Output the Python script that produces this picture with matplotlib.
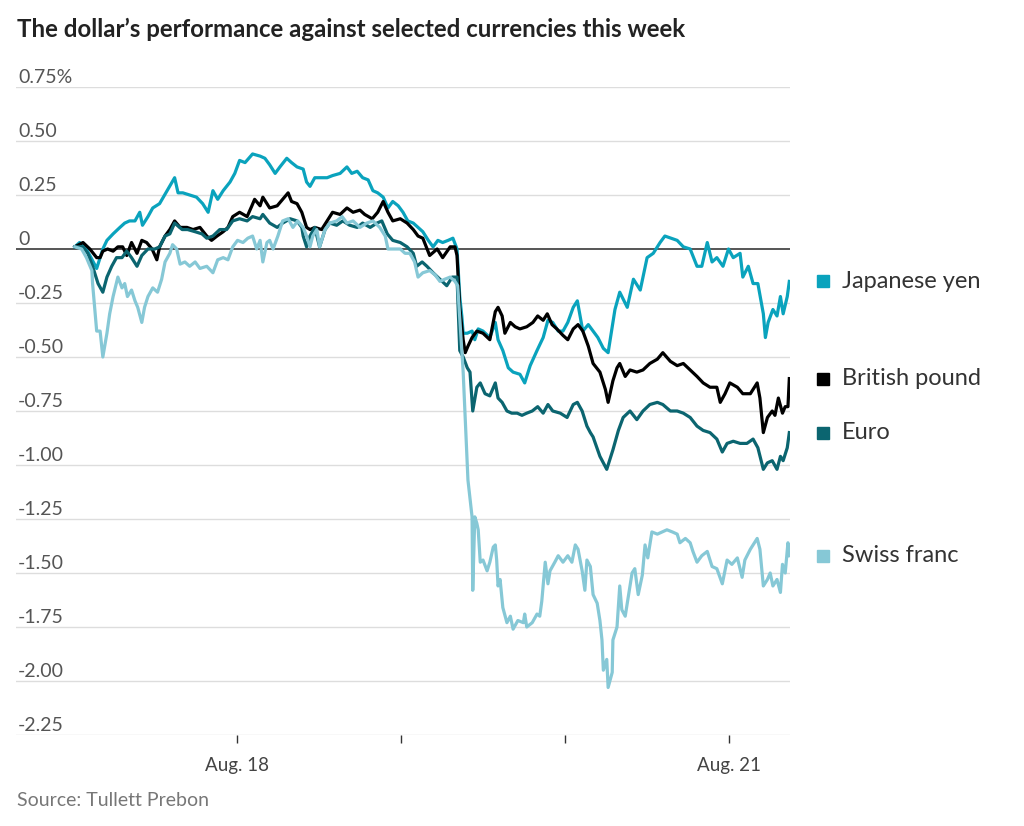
import matplotlib.pyplot as plt
from matplotlib.transforms import blended_transform_factory, offset_copy

# hours since Aug. 17 00:00, change in %
yen_h = [0.3, 1.0, 1.8, 2.5, 3.5, 4.4, 5.0, 5.9, 6.9, 7.6, 8.3, 9.1, 9.8, 10.2, 11.0, 11.7,
         12.7, 13.8, 14.9, 15.4, 16.1, 17.1, 18.1, 19.0, 19.8, 20.5, 21.2, 22.0, 23.0, 23.7,
         24.4, 25.2, 26.3, 27.4, 28.1, 28.8, 29.6, 30.3, 31.3, 32.0, 32.8, 33.7, 34.2, 34.7,
         35.4, 36.1, 37.2, 38.0, 39.1, 40.1, 40.8, 41.6, 42.4, 43.2, 43.9, 44.6, 45.4, 46.1,
         46.8, 47.6, 48.3, 49.0, 49.8, 50.5, 51.2, 52.0, 52.7, 53.4, 54.1, 54.9, 55.6, 56.2,
         56.6, 56.9, 57.1, 57.7, 58.4, 58.8, 59.3, 60.0, 61.0, 61.8, 62.2, 62.9, 63.7, 64.4,
         65.4, 66.1, 66.9, 67.9, 68.8, 69.5, 70.2, 71.0, 71.7, 72.4, 73.2, 73.8, 74.2, 74.6,
         75.4, 76.1, 76.8, 77.6, 78.3, 78.9, 79.3, 80.0, 81.1, 82.0, 83.0, 84.0, 84.9, 85.9,
         86.6, 88.4, 89.3, 90.3, 91.3, 92.0, 92.8, 93.5, 94.2, 95.1, 95.9, 96.6, 97.6, 98.0,
         98.8, 99.5, 100.2, 101.0, 101.3, 101.7, 102.4, 103.0, 103.5, 103.9, 104.5, 104.8]
yen_pct = [0.01, 0.03, 0.01, -0.03, -0.09, 0.00, 0.04, 0.07, 0.10, 0.12, 0.13, 0.13, 0.17, 0.11, 0.15, 0.19,
           0.21, 0.27, 0.33, 0.26, 0.26, 0.25, 0.24, 0.21, 0.17, 0.27, 0.23, 0.27, 0.31, 0.35,
           0.41, 0.40, 0.44, 0.43, 0.42, 0.39, 0.35, 0.38, 0.42, 0.40, 0.38, 0.37, 0.31, 0.29,
           0.33, 0.33, 0.33, 0.34, 0.35, 0.38, 0.35, 0.36, 0.33, 0.32, 0.27, 0.26, 0.24, 0.19,
           0.22, 0.20, 0.17, 0.13, 0.12, 0.10, 0.08, 0.04, 0.01, 0.04, 0.03, 0.04, 0.05, 0.00,
           -0.22, -0.31, -0.39, -0.39, -0.38, -0.42, -0.37, -0.38, -0.41, -0.34, -0.42, -0.47, -0.55, -0.57,
           -0.58, -0.62, -0.54, -0.47, -0.41, -0.33, -0.34, -0.38, -0.38, -0.34, -0.27, -0.24, -0.31, -0.38,
           -0.35, -0.38, -0.41, -0.46, -0.48, -0.36, -0.28, -0.20, -0.27, -0.14, -0.19, -0.04, -0.02, 0.03,
           0.06, 0.04, 0.01, 0.00, -0.08, -0.08, 0.03, -0.06, -0.04, -0.08, 0.00, -0.04, -0.02, -0.13,
           -0.08, -0.16, -0.16, -0.30, -0.41, -0.34, -0.28, -0.31, -0.22, -0.30, -0.22, -0.15]

gbp_h = [0.3, 1.5, 2.5, 3.5, 4.0, 4.4, 5.1, 5.9, 6.6, 7.3, 7.9, 8.6, 9.4, 10.1, 10.8, 11.6,
         12.3, 12.7, 13.5, 14.2, 14.9, 15.7, 16.7, 17.6, 18.6, 19.6, 20.3, 21.1, 22.0, 22.7,
         23.4, 24.4, 25.5, 26.2, 26.6, 27.4, 27.8, 28.8, 29.9, 30.7, 31.5, 32.0, 32.8, 33.5,
         34.2, 34.7, 35.4, 36.4, 37.2, 38.0, 39.1, 40.1, 41.0, 42.0, 42.7, 43.8, 44.6, 45.4,
         46.1, 46.8, 47.9, 48.9, 49.8, 50.5, 51.2, 52.2, 53.3, 54.1, 55.2, 55.9, 56.2, 56.6,
         57.1, 57.4, 57.8, 58.4, 59.1, 60.0, 61.0, 61.8, 62.2, 62.8, 63.2, 64.0, 64.7, 65.4,
         66.4, 67.3, 68.0, 68.8, 69.4, 70.1, 70.8, 71.7, 72.4, 73.2, 73.9, 74.6, 75.4, 76.1,
         77.1, 77.9, 78.3, 79.0, 79.6, 80.0, 80.8, 81.5, 82.5, 83.4, 84.4, 85.5, 86.3, 87.4,
         88.4, 89.3, 90.3, 91.3, 92.2, 93.2, 94.2, 94.7, 95.4, 96.1, 97.2, 98.0, 99.1, 100.1,
         100.5, 101.0, 101.6, 102.3, 102.7, 103.2, 103.8, 104.2, 104.6, 104.8]
gbp_pct = [0.01, 0.03, 0.00, -0.04, -0.04, -0.01, 0.00, -0.01, 0.01, 0.01, -0.03, 0.03, -0.02, 0.04, 0.03, 0.00,
           -0.05, 0.01, 0.06, 0.09, 0.13, 0.10, 0.10, 0.09, 0.10, 0.06, 0.04, 0.06, 0.08, 0.10,
           0.15, 0.17, 0.15, 0.20, 0.23, 0.20, 0.24, 0.19, 0.20, 0.23, 0.26, 0.22, 0.21, 0.17,
           0.10, 0.09, 0.10, 0.09, 0.13, 0.17, 0.16, 0.19, 0.17, 0.18, 0.16, 0.14, 0.17, 0.22,
           0.17, 0.13, 0.14, 0.12, 0.09, 0.06, 0.05, -0.03, 0.00, -0.04, 0.01, 0.01, -0.03, -0.27,
           -0.42, -0.48, -0.45, -0.41, -0.38, -0.39, -0.42, -0.29, -0.27, -0.31, -0.39, -0.34, -0.36, -0.37,
           -0.36, -0.34, -0.31, -0.33, -0.30, -0.35, -0.37, -0.40, -0.42, -0.37, -0.35, -0.38, -0.45, -0.53,
           -0.57, -0.65, -0.71, -0.61, -0.55, -0.53, -0.59, -0.56, -0.57, -0.56, -0.53, -0.51, -0.48, -0.52,
           -0.54, -0.53, -0.56, -0.59, -0.62, -0.64, -0.64, -0.71, -0.67, -0.62, -0.64, -0.67, -0.67, -0.62,
           -0.69, -0.85, -0.78, -0.75, -0.77, -0.69, -0.76, -0.73, -0.73, -0.60]

eur_h = [0.3, 1.5, 2.2, 2.9, 3.7, 4.4, 5.0, 5.7, 6.4, 7.2, 7.9, 8.6, 9.4, 10.1, 11.0, 12.0,
         12.7, 13.5, 14.2, 14.9, 16.0, 16.8, 17.9, 18.9, 19.6, 20.5, 21.5, 22.5, 23.4, 24.4,
         25.5, 26.3, 27.4, 27.8, 28.8, 29.9, 30.7, 31.8, 32.8, 33.5, 33.7, 34.2, 34.7, 35.4,
         36.1, 36.9, 37.6, 38.6, 39.5, 40.5, 41.6, 42.4, 43.5, 44.5, 45.2, 46.0, 46.8, 47.9,
         48.9, 49.8, 50.3, 51.1, 51.8, 52.7, 53.7, 54.7, 55.5, 56.2, 56.6, 57.1, 57.7, 58.1,
         58.5, 59.1, 59.6, 60.3, 61.0, 61.8, 62.2, 62.8, 63.5, 64.2, 65.0, 65.7, 66.4, 67.2,
         68.0, 68.8, 69.5, 70.2, 71.3, 72.3, 73.2, 73.8, 74.5, 75.2, 75.7, 76.1, 77.1, 78.1,
         79.0, 79.8, 80.5, 81.5, 82.5, 83.4, 84.4, 85.5, 86.3, 87.4, 88.4, 89.3, 90.3, 91.3,
         92.2, 93.2, 94.2, 95.0, 95.7, 96.6, 97.6, 98.6, 99.5, 100.2, 101.0, 101.6, 102.3, 103.0,
         103.5, 103.9, 104.5, 104.8]
eur_pct = [0.01, 0.01, -0.02, -0.08, -0.16, -0.20, -0.13, -0.08, -0.04, -0.04, -0.01, -0.04, -0.08, -0.03, 0.00, 0.00,
           0.01, 0.06, 0.07, 0.12, 0.09, 0.09, 0.08, 0.07, 0.05, 0.06, 0.09, 0.09, 0.13, 0.14,
           0.13, 0.15, 0.14, 0.16, 0.12, 0.10, 0.12, 0.14, 0.13, 0.10, 0.06, 0.01, 0.06, 0.10,
           0.01, 0.09, 0.12, 0.11, 0.13, 0.11, 0.10, 0.12, 0.10, 0.12, 0.13, 0.07, 0.04, 0.03,
           0.01, -0.02, -0.08, -0.06, -0.08, -0.11, -0.14, -0.17, -0.13, -0.13, -0.47, -0.50, -0.55, -0.57,
           -0.75, -0.64, -0.62, -0.67, -0.68, -0.62, -0.69, -0.71, -0.75, -0.76, -0.76, -0.77, -0.76, -0.75,
           -0.73, -0.76, -0.72, -0.75, -0.76, -0.78, -0.72, -0.71, -0.75, -0.82, -0.85, -0.87, -0.96, -1.02,
           -0.93, -0.84, -0.78, -0.75, -0.79, -0.75, -0.72, -0.71, -0.72, -0.75, -0.75, -0.76, -0.78, -0.82,
           -0.84, -0.85, -0.88, -0.94, -0.90, -0.89, -0.90, -0.90, -0.88, -0.92, -1.02, -0.99, -0.98, -1.02,
           -0.96, -0.98, -0.92, -0.85]

chf_h = [0.3, 1.3, 2.0, 2.8, 2.9, 3.2, 3.5, 4.0, 4.4, 5.0, 5.4, 5.9, 6.6, 7.2, 7.6, 8.0,
         8.6, 9.1, 9.5, 10.1, 10.5, 11.0, 11.7, 12.4, 13.0, 13.5, 14.2, 14.6, 15.2, 15.7,
         16.4, 17.1, 17.9, 18.6, 19.6, 20.5, 21.2, 22.0, 22.7, 23.4, 24.1, 24.9, 25.6, 26.3,
         26.9, 27.4, 27.8, 28.4, 28.8, 29.3, 30.0, 30.7, 31.5, 32.2, 32.9, 33.7, 34.2, 34.7,
         35.1, 35.7, 36.1, 36.9, 37.6, 38.6, 39.4, 40.1, 41.0, 42.0, 43.0, 43.9, 44.9, 45.7,
         46.1, 46.8, 47.9, 48.6, 49.3, 50.0, 50.5, 51.2, 52.2, 53.0, 53.7, 54.4, 55.2, 55.9,
         56.3, 57.1, 57.8, 58.4, 58.5, 58.8, 59.1, 59.3, 59.6, 60.0, 60.6, 61.0, 61.5, 61.8,
         62.0, 62.2, 62.5, 62.9, 63.5, 64.0, 64.4, 65.1, 65.9, 66.1, 66.4, 67.2, 67.9, 68.3,
         68.6, 69.1, 69.5, 69.8, 70.5, 71.0, 71.7, 72.4, 73.0, 73.5, 73.9, 74.5, 74.9, 75.2,
         75.7, 76.1, 76.7, 77.1, 77.4, 77.6, 78.1, 78.3, 78.9, 79.0, 79.6, 80.0, 80.3, 80.8,
         81.2, 81.8, 82.2, 82.7, 83.3, 83.7, 84.1, 84.7, 85.5, 86.2, 86.9, 87.7, 88.4, 88.8,
         89.6, 90.3, 90.7, 91.3, 92.0, 92.8, 93.5, 94.2, 95.0, 95.7, 96.4, 97.2, 97.9, 98.3,
         99.1, 100.1, 100.5, 101.0, 101.6, 102.0, 102.4, 103.0, 103.5, 103.8, 104.2, 104.6, 104.8]
chf_pct = [0.01, 0.00, -0.04, -0.10, -0.16, -0.27, -0.38, -0.38, -0.50, -0.39, -0.30, -0.22, -0.13, -0.18, -0.16, -0.22,
           -0.19, -0.24, -0.27, -0.34, -0.27, -0.22, -0.18, -0.20, -0.14, -0.06, -0.02, 0.02, 0.00, -0.07,
           -0.06, -0.08, -0.06, -0.09, -0.08, -0.11, -0.05, -0.04, -0.05, 0.01, 0.04, 0.03, 0.05, 0.06,
           0.00, 0.04, -0.06, 0.03, 0.04, 0.00, 0.06, 0.13, 0.14, 0.10, 0.13, 0.10, 0.06, 0.01,
           0.06, 0.09, 0.01, 0.09, 0.12, 0.13, 0.15, 0.12, 0.13, 0.10, 0.12, 0.13, 0.10, 0.06,
           0.00, 0.00, 0.00, -0.02, -0.02, -0.06, -0.13, -0.11, -0.10, -0.12, -0.15, -0.14, -0.13, -0.15,
           -0.17, -0.57, -1.07, -1.24, -1.58, -1.24, -1.27, -1.30, -1.45, -1.44, -1.49, -1.45, -1.38, -1.37,
           -1.44, -1.56, -1.53, -1.66, -1.73, -1.70, -1.76, -1.72, -1.73, -1.69, -1.75, -1.73, -1.69, -1.70,
           -1.63, -1.45, -1.55, -1.49, -1.45, -1.42, -1.45, -1.42, -1.45, -1.37, -1.39, -1.49, -1.58, -1.44,
           -1.47, -1.60, -1.64, -1.72, -1.81, -1.95, -1.90, -2.03, -1.96, -1.81, -1.75, -1.56, -1.67, -1.70,
           -1.62, -1.50, -1.48, -1.60, -1.51, -1.37, -1.43, -1.31, -1.32, -1.31, -1.30, -1.31, -1.32, -1.36,
           -1.34, -1.36, -1.40, -1.45, -1.42, -1.40, -1.47, -1.48, -1.55, -1.44, -1.46, -1.43, -1.52, -1.44,
           -1.39, -1.34, -1.39, -1.56, -1.53, -1.50, -1.56, -1.53, -1.59, -1.46, -1.50, -1.36, -1.42]

names = ["Japanese yen", "British pound", "Euro", "Swiss franc"]
colors = ["#0aa3bd", "#000000", "#0b6570", "#86c8d6"]
hours = [yen_h, gbp_h, eur_h, chf_h]
values = [yen_pct, gbp_pct, eur_pct, chf_pct]

yticks = [0.75, 0.5, 0.25, 0, -0.25, -0.5, -0.75, -1.0, -1.25, -1.5, -1.75, -2.0, -2.25]
ylabels = ["0.75%", "0.50", "0.25", "0", "-0.25", "-0.50", "-0.75", "-1.00", "-1.25",
           "-1.50", "-1.75", "-2.00", "-2.25"]
xticks = [24, 48, 72, 96]
xlabels = ["Aug. 18", "", "", "Aug. 21"]

fam = ["Lato", "DejaVu Sans"]

fig = plt.figure(figsize=(10.24, 8.26), dpi=100)
ax = fig.add_axes([16 / 1024, 91 / 826, 774 / 1024, 648 / 826])
ax.set_xlim(-8.3, 104.9)
ax.set_ylim(-2.25, 0.75)
for s in ax.spines.values():
    s.set_visible(False)

for v in yticks:
    if v == 0:
        ax.axhline(v, color="#555555", lw=1.4, zorder=1)
    else:
        ax.axhline(v, color="#dddddd", lw=1.0, zorder=0)

ytrans = offset_copy(ax.get_yaxis_transform(), fig=fig, x=2, y=1, units="dots")
for v, lab in zip(yticks, ylabels):
    ax.text(0, v, lab, transform=ytrans, ha="left", va="bottom",
            fontsize=14, color="#555555", family=fam)

ax.set_yticks([])
ax.set_xticks(xticks)
ax.set_xticklabels(xlabels, family=fam, fontsize=13.5, color="#444444")
ax.tick_params(axis="x", length=6, width=1, color="#333333", pad=10)

for nm, h, v, c in zip(names, hours, values, colors):
    ax.plot(h, v, color=c, lw=2.3, zorder=3, solid_joinstyle="round")

# labels at the right, beside each series' last value
ltrans = blended_transform_factory(ax.transAxes, ax.transData)
for nm, v, c in zip(names, values, colors):
    ax.plot([1.0426], [v[-1]], marker="s", ms=9, color=c, transform=ltrans, clip_on=False)
    ax.text(1.067, v[-1], nm, transform=ltrans, ha="left", va="center",
            fontsize=17, color="#333333", family=fam)

fig.text(17 / 1024, 1 - 29 / 826, "The dollar\u2019s performance against selected currencies this week",
         ha="left", va="center", fontsize=17.3, fontweight="bold", color="#222222",
         family=fam)
fig.text(17 / 1024, 1 - 801 / 826, "Source: Tullett Prebon", ha="left", va="center",
         fontsize=14, color="#777777", family=fam)

fig.savefig("out.png", dpi=100)
